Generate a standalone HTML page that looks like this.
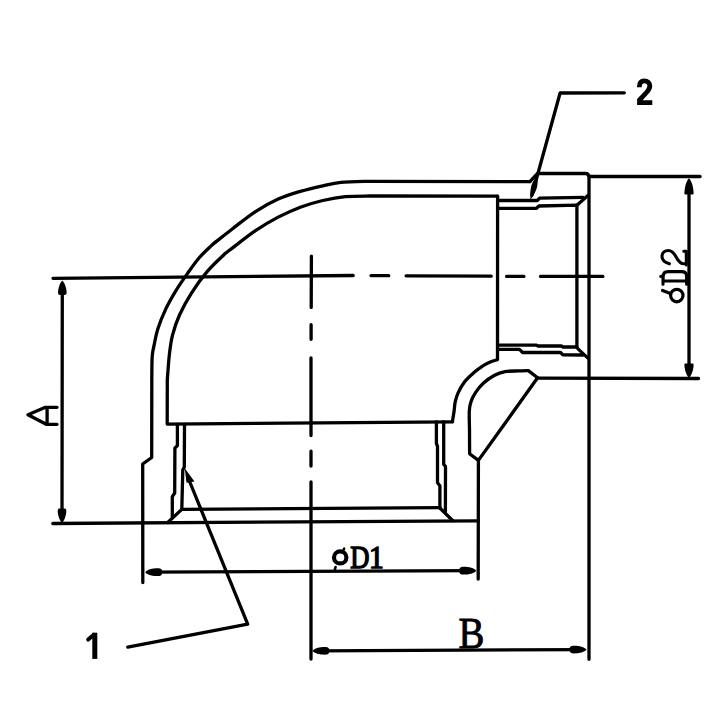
<!DOCTYPE html>
<html><head><meta charset="utf-8">
<style>
html,body{margin:0;padding:0;background:#fff;width:709px;height:709px;overflow:hidden}
svg{display:block}
</style></head>
<body>
<svg width="709" height="709" viewBox="0 0 709 709">
<rect width="709" height="709" fill="#fff"/>
<g fill="none" stroke="#000" stroke-width="3.3" stroke-linecap="round" stroke-linejoin="round">
<path d="M529.9,181.6 L370,181.3  C365.15,181.48 348.77,181.65 340.9,182.4 C333.03,183.15 329.57,184.3 322.8,185.8 C316.03,187.3 307.82,189.15 300.3,191.4 C292.78,193.65 285.23,195.9 277.7,199.3 C270.17,202.7 262.62,206.9 255.1,211.8 C247.58,216.7 238.98,223.82 232.6,228.7 C226.22,233.58 220.38,238.23 216.8,241.1 C213.22,243.97 214.03,243.12 211.1,245.9 C208.17,248.68 203.15,253.18 199.2,257.8 C195.25,262.42 191.35,268.02 187.4,273.6 C183.45,279.18 179.12,285.38 175.5,291.3 C171.88,297.22 168.65,302.83 165.7,309.1 C162.75,315.37 159.72,322.97 157.8,328.9 C155.88,334.83 155.13,340.1 154.2,344.7 C153.27,349.3 152.6,350.62 152.2,356.5 C151.8,362.38 151.87,376.08 151.8,380 L151.7,457.5 L142.7,464 L142.8,582.5"/>
<path d="M529.9,181.6 L537.4,173.5 L585.5,173.5 Q589,173.5 589,177.5 L589,659.3"/>
<path d="M497.6,196.1 L370,196  C365.9,196.1 353.27,195.85 345.4,196.6 C337.53,197.35 330.32,198.73 322.8,200.5 C315.28,202.27 307.82,204.38 300.3,207.2 C292.78,210.02 285.23,213.45 277.7,217.4 C270.17,221.35 262.62,225.82 255.1,230.9 C247.58,235.98 237.63,244.08 232.6,247.9 C227.57,251.72 229.15,249.85 224.9,253.8 C220.65,257.75 212.7,265.02 207.1,271.6 C201.5,278.18 195.9,286.07 191.3,293.3 C186.7,300.53 182.62,308.08 179.5,315 C176.38,321.92 174.25,328.53 172.6,334.8 C170.95,341.07 170.37,346.68 169.6,352.6 C168.83,358.52 168.38,365.73 168,370.3 C167.62,374.87 167.42,378.38 167.3,380 L167.2,424.1 L452.6,421.8"/>
<path d="M497.6,196.1 L497.5,359.6  C496.38,359.97 493.23,360.77 490.8,361.8 C488.37,362.83 485.72,364 482.9,365.8 C480.08,367.6 476.92,369.97 473.9,372.6 C470.88,375.23 467.43,378.22 464.8,381.6 C462.17,384.98 459.7,389.52 458.1,392.9 C456.5,396.28 455.87,398.9 455.2,401.9 C454.53,404.9 454.57,407.62 454.1,410.9 C453.63,414.18 452.68,419.82 452.4,421.6"/>
<path d="M537.6,377.8 L528.3,370.6  C526.75,370.65 522.88,370.73 519,370.9 C515.12,371.07 509.15,370.83 505,371.6 C500.85,372.37 497.72,373.55 494.1,375.5 C490.48,377.45 486.4,380.45 483.3,383.3 C480.2,386.15 477.57,389.5 475.5,392.6 C473.43,395.7 471.93,398.8 470.9,401.9 C469.87,405 469.53,406.52 469.3,411.2 C469.07,415.88 469.47,426.87 469.5,430 L469.6,453.8 L478.4,460.4 L478.2,579.1"/>
<path d="M537.6,377.8 L478.4,460.4"/>
<path d="M52.8,523.5 L478,520.8"/>
<path d="M181.8,509.4 L439.9,507.6"/>
<path d="M167.7,522.5 L181.8,509.4"/>
<path d="M439.9,508 L452.6,520.5"/>
<path d="M177.4,424.5 L177.4,445.7 L174.9,448.2 L174.7,493 L172.3,496.6 L172.3,517"/>
<path d="M184.5,424.5 L184.3,467 L182.8,470 L181.8,509.4"/>
<path d="M436.4,422 L436.4,443.4 L437.5,446.3 L437.5,482.7 L439.9,485.7 L439.9,508"/>
<path d="M443.7,422 L443.7,464.3 L445.5,466.6 L445.4,512"/>
<path d="M498.5,200.5 L537.3,200.5 L539.6,198.2 L583.1,197.4"/>
<path d="M576.9,205.2 L588.5,195.1"/>
<path d="M498.5,208.3 L536.5,208.3 L538.9,206 L576.9,205.2 L576.9,347"/>
<path d="M498.5,345.2 L536.5,345.2 L538,346 L561.4,346 L563,347 L576.9,347"/>
<path d="M498.5,349.4 L519.5,349.4 L522.6,352.5 L560.6,352.5 L562.9,354.8 L583.1,355"/>
<path d="M577.7,348.6 L587.7,357.9"/>
<path d="M53,278.3 L353.2,275.5 M371,275.6 L388.7,275.7 M406.1,275.8 L491.2,276.2 M506.6,276.4 L523.9,276.4 M540.5,276.4 L602.9,276.4"/>
<path d="M311.4,256.1 L311.2,307.4 M311.1,324.7 L311.1,339.3 M311,357.9 L311,435.5 M311,451.2 L311,466.1 M311,482 L311,659.1"/>
<path d="M62.3,285 L62,518"/>
<path d="M689,185 L689,370"/>
<path d="M590,176.5 L700,176.5"/>
<path d="M537.6,378.1 L698.5,378.5"/>
<path d="M150,572.2 L470,570.7"/>
<path d="M318,650.8 L580,649.6"/>
<path d="M189.8,482 L247.7,624.1 L127.8,647.2"/>
<path d="M624.3,92.8 L560.1,93 L532,195"/>
<path d="M57,407.3 L45.4,407.3 L28,414.8 L46.2,424.3 L57,424.3 M47.1,407.3 L47.1,424.3"/>
<path d="M88.2,639.6 L93.8,634.8" stroke-width="4"/>
<rect x="92.3" y="632.7" width="5" height="26.2" fill="#000" stroke="none"/>
<path d="M639.3,87.2 C639.3,82.2 641.5,80.9 644.3,80.9 C647.5,80.9 649.8,83 649.8,86 C649.8,88.6 648.6,90.2 646.5,92.5 L639.5,100 L639.5,102.7 L652.3,102.7" stroke-width="4.8" stroke-linecap="butt" stroke-linejoin="miter"/>
</g>
<g fill="#000" stroke="none">
<path transform="translate(62.3,280.5)" d="M0,0 C3,3 4.3,9 4.3,12.3 C4.3,13.8 3.3,14.5 2.3,14.5 L-2.3,14.5 C-3.3,14.5 -4.3,13.8 -4.3,12.3 C-4.3,9 -3,3 0,0Z"/>
<path transform="translate(62,523) rotate(180)" d="M0,0 C3,3 4.3,9 4.3,12.3 C4.3,13.8 3.3,14.5 2.3,14.5 L-2.3,14.5 C-3.3,14.5 -4.3,13.8 -4.3,12.3 C-4.3,9 -3,3 0,0Z"/>
<path transform="translate(689,178.2)" d="M0,0 C3,3 4.6,10 4.6,15.5 C4.6,16 4,16.2 3,16.2 L-3,16.2 C-4,16.2 -4.6,16 -4.6,15.5 C-4.6,10 -3,3 0,0Z"/>
<path transform="translate(689,378) rotate(180)" d="M0,0 C3,3 4.6,9 4.6,13.5 C4.6,14 4,14.5 3,14.5 L-3,14.5 C-4,14.5 -4.6,14 -4.6,13.5 C-4.6,9 -3,3 0,0Z"/>
<path transform="translate(145.2,572.2) rotate(-90)" d="M0,0 C2.5,2 3.9,7 3.9,12.5 C3.9,16 2.5,17 0,17 C-2.5,17 -3.9,16 -3.9,12.5 C-3.9,7 -2.5,2 0,0Z"/>
<path transform="translate(476.2,570.7) rotate(90)" d="M0,0 C2.5,2 3.9,7 3.9,12.5 C3.9,16 2.5,17 0,17 C-2.5,17 -3.9,16 -3.9,12.5 C-3.9,7 -2.5,2 0,0Z"/>
<path transform="translate(312.4,650.8) rotate(-90)" d="M0,0 C2.5,2 3.9,7 3.9,12.5 C3.9,16 2.5,17 0,17 C-2.5,17 -3.9,16 -3.9,12.5 C-3.9,7 -2.5,2 0,0Z"/>
<path transform="translate(586.5,649.6) rotate(90)" d="M0,0 C2.5,2 3.9,7 3.9,12.5 C3.9,16 2.5,17 0,17 C-2.5,17 -3.9,16 -3.9,12.5 C-3.9,7 -2.5,2 0,0Z"/>
<path transform="" d="M184.7,468.3 L186.5,482.8 L194.5,481.4 Z"/>
<path transform="translate(530.6,199.6) rotate(195.4)" d="M0,0 C1.8,4 2.9,9 2.9,13 C2.9,17 1.5,22 0,22 C-1.5,22 -2.9,17 -2.9,13 C-2.9,9 -1.8,4 0,0Z"/>
</g>
<g font-family="Liberation Serif" font-size="100" fill="#000" stroke="#000">
<text stroke-width="4.5" transform="translate(350.23,568.07) scale(0.2657,0.3240)">D</text>
<text stroke-width="4.5" transform="translate(369.11,568.15) scale(0.2955,0.3229)">1</text>
<text stroke-width="2" transform="translate(458.42,647.84) scale(0.3885,0.4517)">B</text>
</g>
<g fill="none" stroke="#000">
<ellipse cx="340.2" cy="557.4" rx="6.2" ry="6" stroke-width="4.2"/>
<path stroke-width="2.5" stroke-linecap="round" d="M335.6,567 L334.8,569.5 M343.3,550.5 L344.2,548.6"/>
<ellipse cx="676.8" cy="295.6" rx="6.2" ry="6.2" stroke-width="3.2"/>
<path stroke-width="3.2" stroke-linecap="round" d="M662.5,290.5 L670.5,293.5"/>
<path stroke-width="3.1" stroke-linecap="round" stroke-linejoin="round" d="M669.4,263.8 C665,262.5 662,260 662,256.5 C662,252.5 665,250.5 668.5,250.5 C672,250.5 674,253 676.4,257.5 C678.5,261.5 680.5,263.8 684,263.8 L686.3,263.8 M686.3,265 L686.3,251.3 L683.8,251.3"/>
<path stroke-width="3.1" stroke-linecap="round" stroke-linejoin="round" d="M662.9,281 L686.6,281 L686.6,276 C686.6,273 684.5,271.6 681.5,271.6 L668,271.6 C665,271.6 663.2,273.5 663.2,276.5 L663,281 M663,278 L663,284.3 M686.6,278 L686.6,284.3 M660.8,276.4 L663,276.4"/>
</g>
</svg>
</body></html>
